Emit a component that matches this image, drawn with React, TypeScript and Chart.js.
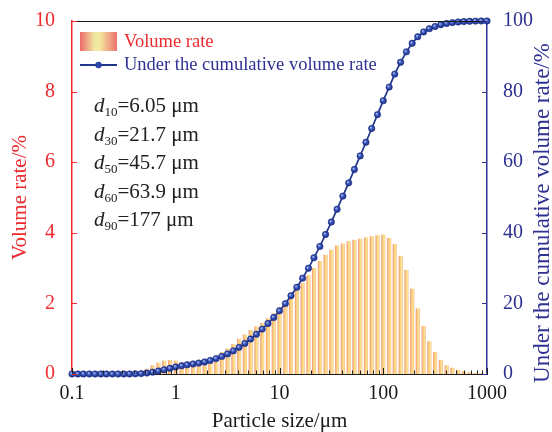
import { useEffect, useRef } from 'react';
import { Chart, registerables } from 'chart.js';

Chart.register(...registerables);

// ---------- data ----------
const particleSizes = [
  0.1, 0.114, 0.129, 0.147, 0.167, 0.19, 0.215, 0.245, 0.278, 0.316,
  0.359, 0.408, 0.464, 0.527, 0.599, 0.681, 0.774, 0.88, 1.0, 1.14,
  1.29, 1.47, 1.67, 1.9, 2.15, 2.45, 2.78, 3.16, 3.59, 4.08,
  4.64, 5.27, 5.99, 6.81, 7.74, 8.8, 10.0, 11.4, 12.9, 14.7,
  16.7, 19.0, 21.5, 24.5, 27.8, 31.6, 35.9, 40.8, 46.4, 52.7,
  59.9, 68.1, 77.4, 88.0, 100, 114, 129, 147, 167, 190,
  215, 245, 278, 316, 359, 408, 464, 527, 599, 681,
  774, 880, 1000,
];

const volumeRate = [
  0, 0, 0, 0, 0, 0, 0, 0, 0, 0,
  0.01, 0.03, 0.08, 0.15, 0.25, 0.32, 0.38, 0.4, 0.38, 0.33,
  0.28, 0.24, 0.25, 0.32, 0.42, 0.52, 0.62, 0.72, 0.85, 1.0,
  1.12, 1.25, 1.35, 1.45, 1.58, 1.72, 1.88, 2.05, 2.22, 2.4,
  2.58, 2.8, 3.0, 3.2, 3.38, 3.52, 3.64, 3.7, 3.76, 3.8,
  3.83, 3.87, 3.9, 3.93, 3.95, 3.85, 3.68, 3.35, 2.95, 2.42,
  1.86, 1.36, 0.93, 0.62, 0.4, 0.25, 0.18, 0.12, 0.08, 0.05,
  0.03, 0.02, 0.01,
];

const cumulativeRate = [
  0, 0, 0, 0, 0, 0, 0, 0, 0, 0,
  0.0, 0.04, 0.12, 0.27, 0.52, 0.84, 1.22, 1.62, 2.0, 2.33,
  2.61, 2.85, 3.1, 3.42, 3.84, 4.36, 4.98, 5.7, 6.55, 7.55,
  8.67, 9.92, 11.27, 12.72, 14.3, 16.02, 17.9, 19.95, 22.17, 24.57,
  27.15, 29.95, 32.95, 36.15, 39.53, 43.05, 46.69, 50.39, 54.15, 57.95,
  61.78, 65.65, 69.55, 73.48, 77.43, 81.28, 84.96, 88.31, 91.26, 93.68,
  95.54, 96.9, 97.83, 98.45, 98.95, 99.3, 99.55, 99.72, 99.84, 99.92,
  99.97, 100, 100,
];

const xMajorTicks = [0.1, 1, 10, 100, 1000];
const xTickLabels = ['0.1', '1', '10', '100', '1000'];
const xMinorMultipliers = [2, 3, 4, 5, 6, 7, 8, 9];

const dSubscripts = ['10', '30', '50', '60', '90'];
const dValues = ['6.05', '21.7', '45.7', '63.9', '177'];

const legendLabels = ['Volume rate', 'Under the cumulative volume rate'];
const xTitle = 'Particle size/μm';
const leftTitle = 'Volume rate/%';
const rightTitle = 'Under the cumulative volume rate/%';

// ---------- style ----------
const RED = '#ee2a2e';
const NAVY = '#2e3192';
const LINE = '#22368c';
const INK = '#1a1a1a';
const SERIF = '"Liberation Serif", "Times New Roman", serif';

const xTickValues: number[] = [];
xMajorTicks.forEach((m, i) => {
  xTickValues.push(m);
  if (i < xMajorTicks.length - 1) xMinorMultipliers.forEach((k) => xTickValues.push(+(m * k).toPrecision(6)));
});
const majorIndex = (v: number) => xMajorTicks.findIndex((m) => Math.abs(m - v) / m < 1e-6);

const decorPlugin = {
  id: 'decor',
  afterDraw(chart: any) {
    const { ctx, chartArea: a, scales } = chart;
    const xs = scales.x;
    const yl = scales.y;
    const yr = scales.y2;
    ctx.save();
    // top frame line
    ctx.strokeStyle = INK;
    ctx.lineWidth = 1;
    ctx.beginPath();
    ctx.moveTo(a.left, Math.round(a.top) + 0.5);
    ctx.lineTo(a.right, Math.round(a.top) + 0.5);
    ctx.stroke();

    // inner x ticks
    ctx.strokeStyle = '#222';
    xs.ticks.forEach((t: any) => {
      const px = Math.round(xs.getPixelForValue(t.value)) + 0.5;
      const len = majorIndex(t.value) >= 0 ? 6 : 3.5;
      ctx.beginPath();
      ctx.moveTo(px, a.bottom);
      ctx.lineTo(px, a.bottom - len);
      ctx.stroke();
    });
    // inner left ticks
    ctx.strokeStyle = RED;
    yl.ticks.forEach((t: any) => {
      const py = Math.round(yl.getPixelForValue(t.value)) + 0.5;
      ctx.beginPath();
      ctx.moveTo(a.left, py);
      ctx.lineTo(a.left + 5, py);
      ctx.stroke();
    });
    // inner right ticks
    ctx.strokeStyle = NAVY;
    yr.ticks.forEach((t: any) => {
      const py = Math.round(yr.getPixelForValue(t.value)) + 0.5;
      ctx.beginPath();
      ctx.moveTo(a.right, py);
      ctx.lineTo(a.right - 5, py);
      ctx.stroke();
    });

    // right title (reads bottom to top)
    ctx.save();
    ctx.translate(543, 213);
    ctx.rotate(-Math.PI / 2);
    ctx.fillStyle = NAVY;
    ctx.font = `23px ${SERIF}`;
    ctx.textAlign = 'center';
    ctx.textBaseline = 'middle';
    ctx.fillText(rightTitle, 0, 0);
    ctx.restore();

    // legend
    const g = ctx.createLinearGradient(80, 0, 117, 0);
    g.addColorStop(0, '#ee6a6d');
    g.addColorStop(0.4, '#eeeaa0');
    g.addColorStop(0.55, '#f1e59c');
    g.addColorStop(1, '#ee7070');
    ctx.fillStyle = g;
    ctx.fillRect(80, 32, 37, 19);
    ctx.strokeStyle = LINE;
    ctx.lineWidth = 2.2;
    ctx.beginPath();
    ctx.moveTo(80, 65);
    ctx.lineTo(117, 65);
    ctx.stroke();
    ctx.fillStyle = '#2a44a6';
    ctx.beginPath();
    ctx.arc(98.5, 65, 3.2, 0, Math.PI * 2);
    ctx.fill();
    ctx.font = `18.5px ${SERIF}`;
    ctx.textAlign = 'left';
    ctx.textBaseline = 'middle';
    ctx.fillStyle = RED;
    ctx.fillText(legendLabels[0], 124, 42);
    ctx.fillStyle = NAVY;
    ctx.fillText(legendLabels[1], 124, 65);

    // d-value annotations
    ctx.fillStyle = '#222';
    ctx.textBaseline = 'alphabetic';
    dSubscripts.forEach((sub, i) => {
      const base = 112 + i * 28.6;
      let xx = 94;
      ctx.font = `italic 21px ${SERIF}`;
      ctx.fillText('d', xx, base);
      xx += ctx.measureText('d').width;
      ctx.font = `13px ${SERIF}`;
      ctx.fillText(sub, xx, base + 4);
      xx += ctx.measureText(sub).width;
      ctx.font = `21px ${SERIF}`;
      ctx.fillText(`=${dValues[i]} μm`, xx, base);
    });
    ctx.restore();
  },
};

export default function App() {
  const ref = useRef<HTMLCanvasElement>(null);

  useEffect(() => {
    if (!ref.current) return;
    const n = particleSizes.length;
    const chart = new Chart(ref.current, {
      type: 'bar',
      data: {
        datasets: [
          {
            type: 'line',
            label: legendLabels[1],
            data: particleSizes.map((x, i) => ({ x, y: cumulativeRate[i] })),
            yAxisID: 'y2',
            xAxisID: 'x',
            order: 0,
            borderColor: LINE,
            borderWidth: 1.7,
            tension: 0,
            pointRadius: 3.2,
            pointBorderWidth: 0.6,
            pointBorderColor: '#1d2f82',
            pointBackgroundColor: (c: any) => {
              const chart = c.chart;
              const xs = chart.scales?.x;
              const ys = chart.scales?.y2;
              if (c.type !== 'data' || !xs || !ys) return '#2a44a6';
              const px = xs.getPixelForValue(particleSizes[c.dataIndex]);
              const py = ys.getPixelForValue(cumulativeRate[c.dataIndex]);
              if (!isFinite(px) || !isFinite(py)) return '#2a44a6';
              const gr = chart.ctx.createRadialGradient(px - 1, py - 1, 0.2, px, py, 3.5);
              gr.addColorStop(0, '#a9bcf2');
              gr.addColorStop(0.45, '#3551b6');
              gr.addColorStop(1, '#1a2c85');
              return gr;
            },
            clip: 8,
          } as any,
          {
            type: 'bar',
            label: legendLabels[0],
            data: particleSizes.map((x, i) => ({ x, y: volumeRate[i] })),
            yAxisID: 'y',
            xAxisID: 'x',
            order: 1,
            barPercentage: 0.86,
            categoryPercentage: 1,
            backgroundColor: (c: any) => {
              const chart = c.chart;
              const xs = chart.scales?.x;
              if (c.type !== 'data' || !xs) return '#f6c88a';
              const i = c.dataIndex;
              const px = xs.getPixelForValue(particleSizes[i]);
              const j = i < n - 1 ? i + 1 : i - 1;
              const step = Math.abs(xs.getPixelForValue(particleSizes[j]) - px);
              if (!isFinite(px) || !isFinite(step)) return '#f6c88a';
              const hw = step * 0.43;
              const gr = chart.ctx.createLinearGradient(px - hw, 0, px + hw, 0);
              gr.addColorStop(0, '#ec8a6e');
              gr.addColorStop(0.5, '#fcd985');
              gr.addColorStop(0.75, '#fbe294');
              gr.addColorStop(1, '#ee9874');
              return gr;
            },
            borderWidth: 0,
          } as any,
        ],
      },
      options: {
        responsive: false,
        animation: false,
        events: [],
        layout: { padding: { top: 20, left: 0, right: 0, bottom: 0 } },
        plugins: { legend: { display: false }, tooltip: { enabled: false } },
        scales: {
          x: {
            type: 'logarithmic',
            position: 'bottom',
            min: 0.1,
            max: 1000,
            offset: false,
            afterBuildTicks: (s: any) => {
              s.ticks = xTickValues.map((v) => ({ value: v, major: majorIndex(v) >= 0 }));
            },
            afterFit: (s: any) => {
              s.height = 58;
            },
            grid: { display: false },
            border: { display: true, color: INK, width: 1 },
            ticks: {
              autoSkip: false,
              maxRotation: 0,
              minRotation: 0,
              padding: 0,
              color: INK,
              font: { family: SERIF, size: 20 },
              callback: (v: any) => {
                const i = majorIndex(Number(v));
                return i >= 0 ? xTickLabels[i] : '';
              },
            },
            title: {
              display: true,
              text: xTitle,
              color: INK,
              font: { family: SERIF, size: 21, lineHeight: 1.0 },
              padding: { top: 0, bottom: 0 },
            },
          } as any,
          y: {
            position: 'left',
            min: 0,
            max: 10,
            afterFit: (s: any) => {
              s.width = 72;
            },
            grid: { display: false },
            border: { display: true, color: RED, width: 1.5 },
            ticks: { stepSize: 2, padding: 9, color: RED, font: { family: SERIF, size: 20 } },
            title: {
              display: true,
              text: leftTitle,
              color: RED,
              font: { family: SERIF, size: 21 },
              padding: { top: 8, bottom: 0 },
            },
          } as any,
          y2: {
            position: 'right',
            min: 0,
            max: 100,
            afterFit: (s: any) => {
              s.width = 65;
            },
            grid: { display: false },
            border: { display: true, color: NAVY, width: 1.5 },
            ticks: { stepSize: 20, padding: 8, color: NAVY, font: { family: SERIF, size: 20 } },
          } as any,
        },
      },
      plugins: [decorPlugin],
    });
    return () => chart.destroy();
  }, []);

  return (
    <div style={{ position: 'fixed', left: 0, top: 0, width: 552, height: 432, background: '#fff' }}>
      <canvas ref={ref} width={552} height={432} style={{ width: 552, height: 432 }} />
    </div>
  );
}
